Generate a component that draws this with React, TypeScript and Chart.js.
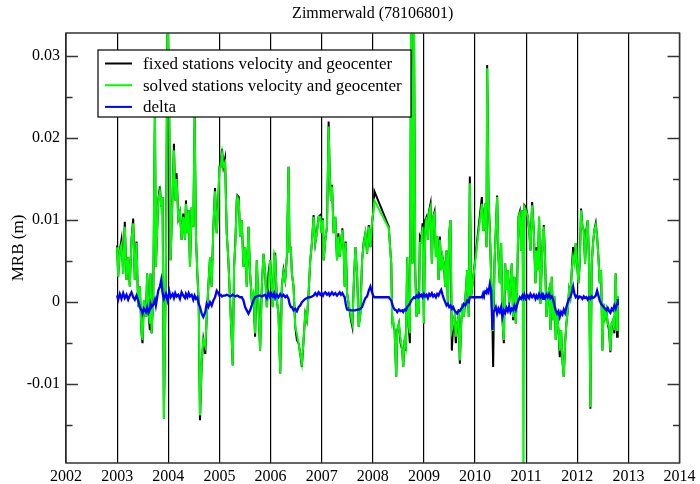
import React, { useEffect, useRef } from 'react';
import { Chart, registerables } from 'chart.js';

Chart.register(...registerables);

const TITLE = 'Zimmerwald (78106801)';
const Y_TITLE = 'MRB (m)';
const SERIES_LABELS = [
  'fixed stations velocity and geocenter',
  'solved stations velocity and geocenter',
  'delta',
];
const SERIES_COLORS = ['#000000', '#00ff00', '#0000ff'];

const X_TICKS = [2002, 2003, 2004, 2005, 2006, 2007, 2008, 2009, 2010, 2011, 2012, 2013, 2014];
const Y_MAJOR = [-0.01, 0, 0.01, 0.02, 0.03];
const Y_MAJOR_LABELS = ['-0.01', '0', '0.01', '0.02', '0.03'];
const Y_MINOR = [-0.015, -0.005, 0.005, 0.015, 0.025];

// epoch (decimal year)
const T = [
  2003.000, 2003.020, 2003.052, 2003.085, 2003.118, 2003.150, 2003.183, 2003.216, 2003.248, 2003.281,
  2003.314, 2003.346, 2003.379, 2003.412, 2003.444, 2003.477, 2003.497, 2003.523, 2003.562, 2003.588,
  2003.614, 2003.641, 2003.654, 2003.673, 2003.706, 2003.739, 2003.758, 2003.804, 2003.837, 2003.863,
  2003.889, 2003.915, 2003.954, 2003.987, 2004.020, 2004.046, 2004.085, 2004.111, 2004.137, 2004.163,
  2004.196, 2004.229, 2004.261, 2004.294, 2004.327, 2004.346, 2004.373, 2004.399, 2004.425, 2004.458,
  2004.490, 2004.516, 2004.542, 2004.569, 2004.595, 2004.621, 2004.654, 2004.686, 2004.725, 2004.752,
  2004.784, 2004.817, 2004.850, 2004.882, 2004.915, 2004.948, 2004.980, 2005.000, 2005.026, 2005.052,
  2005.078, 2005.111, 2005.144, 2005.176, 2005.209, 2005.242, 2005.261, 2005.288, 2005.314, 2005.340,
  2005.353, 2005.379, 2005.405, 2005.438, 2005.471, 2005.503, 2005.536, 2005.569, 2005.601, 2005.634,
  2005.667, 2005.699, 2005.732, 2005.765, 2005.797, 2005.830, 2005.863, 2005.895, 2005.928, 2005.961,
  2005.993, 2006.020, 2006.046, 2006.072, 2006.092, 2006.124, 2006.157, 2006.190, 2006.222, 2006.255,
  2006.288, 2006.320, 2006.353, 2006.373, 2006.399, 2006.418, 2006.451, 2006.484, 2006.516, 2006.549,
  2006.582, 2006.614, 2006.647, 2006.680, 2006.712, 2006.745, 2006.778, 2006.810, 2006.843, 2006.876,
  2006.908, 2006.941, 2006.974, 2007.000, 2007.026, 2007.039, 2007.072, 2007.105, 2007.137, 2007.157,
  2007.183, 2007.203, 2007.235, 2007.268, 2007.301, 2007.327, 2007.353, 2007.379, 2007.405, 2007.431,
  2007.451, 2007.471, 2007.497, 2007.575, 2007.601, 2007.627, 2007.660, 2007.693, 2007.725, 2007.758,
  2007.791, 2007.824, 2007.856, 2007.889, 2007.922, 2007.954, 2007.987, 2008.007, 2008.033, 2008.314,
  2008.336, 2008.362, 2008.381, 2008.401, 2008.427, 2008.459, 2008.479, 2008.511, 2008.544, 2008.577,
  2008.596, 2008.622, 2008.648, 2008.674, 2008.700, 2008.726, 2008.752, 2008.779, 2008.805, 2008.831,
  2008.857, 2008.883, 2008.902, 2008.922, 2008.948, 2008.974, 2009.000, 2009.026, 2009.052, 2009.078,
  2009.104, 2009.130, 2009.156, 2009.182, 2009.208, 2009.235, 2009.261, 2009.287, 2009.313, 2009.339,
  2009.365, 2009.391, 2009.417, 2009.443, 2009.469, 2009.495, 2009.521, 2009.547, 2009.573, 2009.599,
  2009.625, 2009.651, 2009.678, 2009.704, 2009.730, 2009.756, 2009.782, 2009.814, 2009.847, 2009.879,
  2009.899, 2009.925, 2010.134, 2010.160, 2010.173, 2010.199, 2010.225, 2010.238, 2010.264, 2010.290,
  2010.316, 2010.342, 2010.355, 2010.381, 2010.407, 2010.433, 2010.459, 2010.485, 2010.511, 2010.537,
  2010.564, 2010.590, 2010.616, 2010.642, 2010.668, 2010.694, 2010.720, 2010.746, 2010.772, 2010.798,
  2010.824, 2010.850, 2010.876, 2010.902, 2010.928, 2010.948, 2010.967, 2010.993, 2011.033, 2011.059,
  2011.085, 2011.117, 2011.150, 2011.182, 2011.202, 2011.228, 2011.254, 2011.280, 2011.306, 2011.332,
  2011.345, 2011.371, 2011.397, 2011.423, 2011.450, 2011.476, 2011.502, 2011.528, 2011.554, 2011.580,
  2011.606, 2011.632, 2011.658, 2011.684, 2011.710, 2011.736, 2011.762, 2011.788, 2011.814, 2011.840,
  2011.866, 2011.893, 2011.919, 2011.945, 2011.971, 2011.997, 2012.023, 2012.049, 2012.075, 2012.101,
  2012.127, 2012.153, 2012.179, 2012.205, 2012.231, 2012.257, 2012.283, 2012.309, 2012.336, 2012.362,
  2012.388, 2012.414, 2012.440, 2012.466, 2012.492, 2012.518, 2012.544, 2012.570, 2012.596, 2012.622,
  2012.648, 2012.674, 2012.700, 2012.726, 2012.752, 2012.779, 2012.792,
];

// values, in millimetres (the axis is in metres)
const FIXED_MM = [
  6.9, 3.1, 6.3, 7.6, 3.5, 9.8, 2.7, 5.5, 1.9, 7.6,
  10.2, 2.7, 7.4, -0.6, 1.9, -3.8, -5.0, 0.2, -1.8, 3.5,
  -1.4, -3.4, 3.5, -3.8, 0.2, 23.5, 4.3, 12.4, 14.1, 11.6,
  12.8, -14.2, 4.3, 36, 22.2, 5.1, 13.3, 19.3, 12.4, 15.7,
  10.2, 11.0, 7.6, 10.8, 7.6, 12.4, 8.4, 11.2, 4.3, 11.6,
  9.2, 22.6, 8.0, 3.5, 0.2, -14.4, -7.5, -4.6, -6.3, -1.8,
  1.9, 5.5, 1.9, 9.2, 13.9, 8.4, 12.4, 16.5, 16.5, 18.7,
  16.5, 17.5, 8.4, 5.1, 0.2, -4.6, -7.7, 4.3, 7.6, 12.4,
  13.0, 12.8, 8.0, 10.0, 4.3, 6.7, 1.9, 9.2, 3.5, 0.2,
  0.7, -4.2, 5.1, -0.6, -5.9, 1.9, 5.9, 3.5, -0.6, 3.5,
  5.1, 1.9, -0.6, 5.9, 5.9, 0.2, -1.4, -8.7, 1.9, 3.9,
  2.7, 5.5, 16.5, 6.3, 6.5, 3.5, 1.9, -3.0, -4.6, -5.0,
  -6.3, -7.9, -4.6, -1.4, -2.2, 1.1, 5.1, 7.2, 10.6, 7.2,
  8.6, 10.4, 10.6, 8.4, 10.2, 5.1, 7.6, 9.2, 22.0, 15.9,
  12.4, 14.3, 8.4, 10.4, 5.1, 8.4, 5.5, 7.2, 9.0, 6.3,
  1.9, 7.4, 1.1, -2.2, -3.0, 1.9, 6.7, 3.5, -3.0, -1.4,
  5.1, 7.4, 8.4, 5.9, 9.4, 6.7, 9.8, 10.8, 13.5, 9.2,
  7.0, 4.7, -2.6, -2.6, -3.4, -9.1, -3.4, -2.6, -5.0, -5.9,
  -7.9, -4.6, -5.9, 5.5, -2.6, -5.0, 36, 4.7, 36, 3.9,
  -1.8, 1.5, -1.4, 8.0, 7.6, 9.6, -2.6, 10.0, 10.4, 7.6,
  11.2, 12.0, 4.7, 10.4, 11.0, 5.5, 8.0, 2.7, 8.0, 3.9,
  5.5, 4.7, 1.9, 6.3, -0.2, 8.4, 10.0, -5.9, -2.6, -1.8,
  -5.0, -2.6, -1.8, -7.5, -2.6, -0.2, -1.8, 0.7, 3.9, -1.8,
  15.3, 0.7, 12.8, 8.8, 9.6, 12.0, 6.7, 28.9, 12.8, 8.8,
  3.1, -3.4, -7.9, 4.7, 8.8, 13.0, 5.5, 2.3, 7.2, -2.2,
  -5.0, 4.7, 1.5, 3.9, -0.2, 2.3, 4.7, -2.2, 3.1, -2.6,
  1.9, 10.4, 11.0, 6.3, 11.2, -2.0, 11.8, 11.6, 10.4, 8.8,
  6.3, 12.2, 8.8, 2.3, 6.7, 3.9, 10.4, -0.2, 4.7, 8.8,
  9.4, 5.3, -1.8, 0.7, 1.5, -3.4, 3.1, -2.2, 0.7, -4.6,
  -1.4, -3.4, -6.7, -3.4, -7.1, -9.1, -5.0, -2.6, -1.0, 1.5,
  0.7, 3.9, 6.7, 4.7, 7.2, 4.7, 2.3, 4.7, 11.4, 9.2,
  8.8, 4.7, 8.8, 10.0, 4.7, -13.0, 4.7, 7.2, 8.8, 9.6,
  8.0, 5.5, 2.3, 3.9, -5.9, -0.2, -1.8, -1.0, -2.6, -3.4,
  -6.1, -2.6, -2.2, -3.8, 3.5, -4.2, 0.7,
];

const SOLVED_MM = [
  6.7, 3.1, 6.3, 7.0, 3.5, 9.2, 2.7, 5.5, 1.9, 7.6,
  9.6, 2.7, 7.2, -0.6, 1.9, -3.8, -4.6, 0.2, -1.8, 3.5,
  -1.4, -2.6, 3.5, -3.8, 0.2, 23.5, 4.3, 12.4, 13.5, 11.6,
  12.8, -14.2, 4.3, 36, 22.2, 5.1, 13.3, 18.5, 12.4, 15.0,
  10.2, 11.0, 7.6, 10.4, 7.6, 12.0, 8.4, 11.2, 4.3, 11.6,
  9.2, 22.6, 8.0, 3.5, 0.2, -13.8, -7.1, -4.6, -5.4, -1.8,
  1.9, 5.5, 1.9, 9.2, 13.5, 8.4, 12.0, 16.5, 16.5, 18.1,
  16.5, 17.0, 8.4, 5.1, 0.2, -4.6, -7.7, 4.3, 7.2, 12.4,
  12.8, 12.4, 8.0, 10.0, 4.3, 6.7, 1.9, 9.2, 3.5, 0.2,
  1.1, -3.8, 5.1, -0.6, -5.9, 1.9, 5.9, 3.5, -0.6, 1.9,
  5.1, 1.9, -0.6, 5.9, 5.5, 0.2, -1.4, -8.7, 1.9, 3.7,
  2.7, 5.5, 16.5, 6.3, 6.5, 3.5, 1.9, -3.0, -3.8, -5.0,
  -6.3, -7.5, -4.6, -1.4, -2.2, 1.1, 5.1, 7.2, 10.4, 7.2,
  8.4, 10.4, 10.4, 8.4, 10.0, 5.1, 7.6, 9.2, 21.4, 15.7,
  12.4, 14.1, 8.4, 10.4, 5.1, 8.0, 5.5, 7.2, 8.8, 6.3,
  1.9, 7.2, 1.1, -1.8, -2.6, 1.9, 6.7, 3.5, -3.0, -1.4,
  5.1, 7.2, 8.4, 5.9, 9.2, 6.7, 9.8, 10.8, 12.4, 9.0,
  7.0, 4.7, -2.6, -2.2, -3.4, -9.1, -3.4, -2.6, -4.6, -5.9,
  -7.9, -4.6, -5.4, 5.5, -2.6, -3.8, 36, 4.7, 36, 3.9,
  -1.8, 1.5, -1.4, 7.2, 7.2, 9.2, -2.6, 8.8, 10.4, 7.6,
  11.0, 11.6, 4.7, 10.4, 10.8, 5.5, 8.0, 2.7, 7.6, 3.9,
  5.5, 4.5, 1.9, 6.3, -0.2, 8.4, 10.0, -3.4, -2.6, -1.8,
  -4.2, -2.6, -1.8, -7.1, -2.6, -0.2, -1.8, 0.7, 3.9, -1.8,
  14.5, 0.7, 12.0, 8.8, 9.6, 12.0, 6.7, 28.5, 12.8, 8.8,
  3.1, -3.4, -3.4, 4.7, 8.8, 12.8, 5.5, 2.3, 7.2, -2.2,
  -4.6, 4.7, 1.5, 3.9, -0.2, 2.3, 4.7, -1.8, 3.1, -2.6,
  1.9, 10.4, 10.8, 6.3, 11.2, -25, 11.6, 11.2, 10.4, 8.8,
  6.3, 11.8, 8.8, 2.3, 6.3, 3.9, 10.4, -0.2, 4.7, 8.8,
  9.2, 5.1, -1.8, 0.7, 1.5, -3.4, 3.1, -2.2, 0.7, -4.6,
  -1.4, -3.4, -5.9, -3.4, -7.1, -9.1, -5.0, -2.6, -1.0, 1.5,
  0.7, 3.9, 5.5, 4.7, 7.2, 4.7, 2.3, 4.7, 11.2, 9.2,
  8.8, 4.7, 8.4, 10.0, 4.7, -12.8, 4.7, 7.2, 8.8, 9.4,
  8.0, 5.5, 2.3, 3.9, -5.9, -0.2, -1.8, -1.0, -2.6, -3.0,
  -5.9, -2.6, -2.2, -3.4, 3.5, -3.4, 0.7,
];

const DELTA_MM = [
  0.8, 0.3, 1.0, 0.4, 1.1, 0.5, 0.9, 0.3, 0.8, 1.2,
  0.6, 0.3, 0.8, 0.2, -0.6, -1.0, -1.4, -0.8, -1.2, -0.6,
  -1.3, -0.9, -0.2, -0.6, -0.3, 0.3, -0.4, 1.4, 1.9, 2.7,
  1.1, 0.4, 1.0, 0.2, 1.3, 0.6, 1.0, 0.5, 1.1, 0.7,
  0.9, 0.4, 1.2, 0.8, 0.5, 1.0, 0.6, 1.1, 0.7, 0.9,
  0.3, 0.8, 0.4, 0.6, -0.2, -0.6, -1.4, -1.8, -1.2, -0.2,
  -0.6, 0.0, -0.4, 0.2, 0.6, 1.4, 1.1, 0.8, 0.9, 0.7,
  0.8, 0.8, 0.9, 0.8, 0.7, 0.8, 0.9, 0.8, 0.7, 0.8,
  0.8, 0.7, 0.6, 0.6, 0.2, -0.6, -1.0, -1.4, -1.0, -0.4,
  0.2, 0.6, 0.7, 0.8, 0.8, 0.7, 0.8, 0.9, 0.5, 1.2,
  0.6, 1.0, 0.7, 1.1, 0.5, 0.9, 0.6, 1.0, 0.7, 0.9,
  0.6, 0.8, 0.4, -0.2, -0.6, -0.6, -1.0, -0.8, -1.1, -0.6,
  -0.4, 0.0, 0.2, 0.4, 0.5, 0.6, 0.6, 0.7, 0.8, 1.1,
  0.8, 1.2, 0.9, 1.1, 0.8, 1.0, 1.2, 0.9, 1.1, 0.8,
  1.0, 1.2, 0.9, 1.1, 0.8, 1.0, 1.2, 0.9, 1.1, 0.8,
  0.6, -0.2, -0.9, -1.0, -1.0, -1.0, -1.0, -0.9, -0.9, -0.8,
  -0.6, 0.0, 0.5, 0.7, 1.4, 1.9, 1.2, 0.8, 0.6, 0.6,
  0.4, 0.2, -0.2, -0.6, -0.9, -1.0, -1.2, -0.9, -1.1, -1.0,
  -1.2, -0.9, -1.0, -0.6, -0.4, -0.2, 0.2, 0.4, 0.6, 0.5,
  0.8, 0.6, 1.0, 0.7, 0.9, 0.6, 1.0, 0.7, 0.9, 0.5,
  1.0, 0.8, 1.1, 0.7, 0.9, 0.6, 1.0, 0.8, 1.2, 1.5,
  0.9, 0.4, 0.0, -0.4, -0.2, -0.6, -0.4, -0.8, -0.6, -1.0,
  -1.2, -1.4, -1.0, -1.1, -0.8, -0.6, -0.2, -0.4, 0.2, 0.0,
  0.6, 0.6, 0.6, 1.1, 0.9, 1.3, 1.1, 1.5, 1.2, 2.2,
  1.4, -3.4, -1.2, -1.0, -0.6, -1.4, -0.8, -1.2, -0.6, -1.8,
  -1.0, -1.3, -0.7, -1.1, -0.5, -1.2, -0.8, -1.0, -0.4, -0.9,
  -0.3, 0.2, 0.6, 0.4, 0.8, 0.5, 0.9, 0.4, 0.8, 0.5,
  1.0, 0.6, 0.9, 0.4, 0.8, 0.5, 1.0, 0.6, 0.9, 0.4,
  0.8, 0.5, 0.9, 0.6, 1.0, 0.5, 0.7, 0.3, -0.4, -1.0,
  -1.4, -1.1, -1.8, -1.2, -1.5, -0.9, -1.3, -0.6, 0.0, 0.4,
  0.6, 1.2, 1.9, 1.0, 0.6, 0.8, 0.5, 0.7, 0.6, 0.4,
  0.7, 0.5, 0.6, 0.3, 0.6, 0.4, 0.7, 0.5, 0.6, 0.8,
  1.4, 0.8, 0.2, -0.2, -0.4, -0.6, -0.8, -1.0, -0.7, -1.1,
  -1.3, -0.8, -1.0, -0.4, -0.8, -0.2, 0.4,
];

const FONT = '"Liberation Serif", "Times New Roman", serif';
const FRAME_COLOR = '#333333';

const toPoints = (mm: number[]) => T.map((t, i) => ({ x: t, y: mm[i] / 1000 }));

const framePlugin = {
  id: 'frameAndLegend',
  afterDraw(chart: any) {
    const { ctx, chartArea: a, scales } = chart;
    const ys = scales.y;
    ctx.save();
    ctx.strokeStyle = FRAME_COLOR;
    ctx.lineWidth = 1.5;
    const seg = (x1: number, y1: number, x2: number, y2: number) => {
      ctx.beginPath();
      ctx.moveTo(x1, y1);
      ctx.lineTo(x2, y2);
      ctx.stroke();
    };
    Y_MAJOR.forEach((v) => {
      const py = Math.round(ys.getPixelForValue(v)) + 0.5;
      seg(a.left, py, a.left + 12, py);
      seg(a.right - 12, py, a.right, py);
    });
    Y_MINOR.forEach((v) => {
      const py = Math.round(ys.getPixelForValue(v)) + 0.5;
      seg(a.left, py, a.left + 6.5, py);
      seg(a.right - 6.5, py, a.right, py);
    });
    ctx.strokeRect(a.left, a.top, a.right - a.left, a.bottom - a.top);

    // legend box
    const bx = a.left + 32;
    const by = a.top + 17;
    const bw = 313;
    const bh = 67;
    ctx.fillStyle = '#ffffff';
    ctx.fillRect(bx, by, bw, bh);
    ctx.strokeStyle = '#000000';
    ctx.lineWidth = 1.2;
    ctx.strokeRect(bx, by, bw, bh);
    ctx.font = '17px ' + FONT;
    ctx.textBaseline = 'middle';
    ctx.textAlign = 'left';
    SERIES_LABELS.forEach((label, i) => {
      const ry = by + 13.5 + i * 21.7;
      ctx.strokeStyle = SERIES_COLORS[i];
      ctx.lineWidth = 2;
      seg(bx + 7, ry, bx + 34, ry);
      ctx.fillStyle = '#000000';
      ctx.fillText(label, bx + 45, ry + 1);
    });
    ctx.restore();
  },
};

export default function App() {
  const ref = useRef<HTMLCanvasElement | null>(null);

  useEffect(() => {
    if (!ref.current) return;
    const chart = new Chart(ref.current, {
      type: 'line',
      data: {
        datasets: [
          {
            label: SERIES_LABELS[0],
            data: toPoints(FIXED_MM),
            borderColor: SERIES_COLORS[0],
            borderWidth: 2,
            pointRadius: 0,
            tension: 0,
            order: 3,
          },
          {
            label: SERIES_LABELS[1],
            data: toPoints(SOLVED_MM),
            borderColor: SERIES_COLORS[1],
            borderWidth: 2,
            pointRadius: 0,
            tension: 0,
            order: 2,
          },
          {
            label: SERIES_LABELS[2],
            data: toPoints(DELTA_MM),
            borderColor: SERIES_COLORS[2],
            borderWidth: 2.3,
            pointRadius: 0,
            tension: 0,
            order: 1,
          },
        ],
      },
      options: {
        animation: false,
        responsive: false,
        maintainAspectRatio: false,
        devicePixelRatio: 1,
        parsing: false,
        normalized: true,
        events: [],
        layout: { padding: { left: 0, right: 20.5, top: 0, bottom: 0 } },
        plugins: {
          legend: { display: false },
          tooltip: { enabled: false },
          title: {
            display: true,
            text: TITLE,
            color: '#000000',
            font: { family: FONT, size: 16, weight: 'normal' },
            padding: { top: 4, bottom: 9.8 },
            fullSize: false,
          },
        },
        scales: {
          x: {
            type: 'linear',
            min: 2002,
            max: 2014,
            afterBuildTicks: (s: any) => {
              s.ticks = X_TICKS.map((v) => ({ value: v }));
            },
            afterFit: (s: any) => {
              s.height = 21;
            },
            ticks: {
              autoSkip: false,
              maxRotation: 0,
              color: '#000000',
              padding: 4,
              font: { family: FONT, size: 16 },
              callback: (v: any) => String(v),
            },
            grid: { color: '#000000', lineWidth: 1.2, drawTicks: false },
            border: { display: false },
          },
          y: {
            type: 'linear',
            min: -0.0196,
            max: 0.0328,
            afterBuildTicks: (s: any) => {
              s.ticks = Y_MAJOR.map((v) => ({ value: v }));
            },
            afterFit: (s: any) => {
              s.width = 66;
            },
            ticks: {
              color: '#000000',
              padding: 6,
              font: { family: FONT, size: 16 },
              callback: (v: any) => {
                const i = Y_MAJOR.indexOf(v);
                return i >= 0 ? Y_MAJOR_LABELS[i] : '';
              },
            },
            grid: { display: false, drawTicks: false },
            border: { display: false },
            title: {
              display: true,
              text: Y_TITLE,
              color: '#000000',
              font: { family: FONT, size: 17 },
              padding: { top: 8, bottom: 0 },
            },
          },
        },
      },
      plugins: [framePlugin],
    } as any);
    return () => chart.destroy();
  }, []);

  return (
    <div style={{ position: 'fixed', left: 0, top: 0, width: 700, height: 484, background: '#ffffff' }}>
      <canvas ref={ref} width={700} height={484} style={{ display: 'block', width: 700, height: 484 }} />
    </div>
  );
}
